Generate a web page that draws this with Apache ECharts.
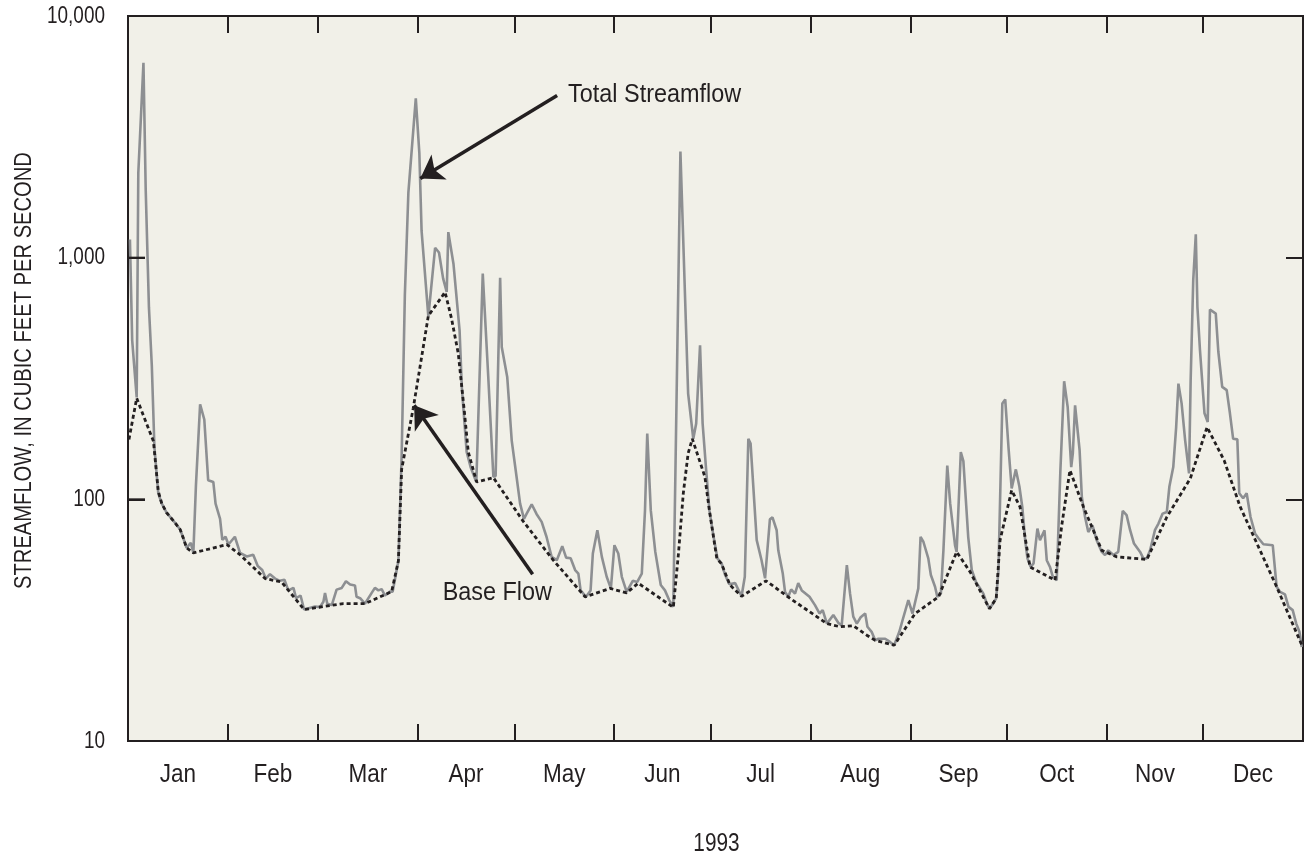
<!DOCTYPE html>
<html><head><meta charset="utf-8">
<script src="https://cdn.jsdelivr.net/npm/echarts@6/dist/echarts.min.js"></script>
<style>html,body{margin:0;padding:0;background:#fff}#chart{width:1306px;height:857px}</style>
</head><body><div id="chart"></div>
<script>
// ---- data (day of year 1993, 0 = Jan 1; streamflow in cubic feet per second) ----
const monthNames = ['Jan','Feb','Mar','Apr','May','Jun','Jul','Aug','Sep','Oct','Nov','Dec'];
const monthStarts = [31,59,90,120,151,181,212,243,273,304,334];
const monthMids = [15.5,45,74.5,105,135.5,166,196.5,227.5,258,288.5,319,349.5];
const yTickValues = [10,100,1000,10000];
const yTickLabels = ['10','100','1,000','10,000'];
const xTitle = '1993';
const yTitle = 'STREAMFLOW, IN CUBIC FEET PER SECOND';

const totalDay = [0.6,1.3,2.7,3.2,4.8,5.5,6.5,7.4,8.2,9.4,10.5,12.0,13.6,14.6,16.2,17.2,18.2,19.5,20.3,21.1,22.4,23.7,24.9,26.5,27.2,28.6,29.3,30.3,31.2,33.2,34.8,36.9,38.9,40.3,41.7,42.8,44.1,45.7,47.2,48.6,49.8,51.4,52.2,53.6,54.7,58.1,59.6,60.7,61.2,61.9,63.3,64.8,66.4,67.7,69,70.5,71,72.1,73.6,75.7,76.7,77.8,78.8,79.8,81.4,82.2,84,85,86,87.1,89.4,90.5,91.2,93.3,95.4,96.6,97.9,99,99.5,101.1,103,103.7,105.2,106.5,108.2,110.2,111.9,113.5,114.2,115.6,116.1,117.8,119.2,120.7,121.8,123,123.8,125.4,126.9,128.5,130,131.6,133.2,134.9,136.1,137.5,138.9,139.9,140.6,142.3,143.7,144.4,145.8,147.2,148.7,150,151.1,152.3,153.4,154.9,156.8,158.2,159.6,160.6,161.3,162.4,163.8,165.5,166.8,168.1,169.4,171.6,174,175.6,176.5,177.7,178.5,179.6,180.6,181.9,183.1,184.4,185.5,186.8,188.6,190.6,191.6,192.7,193.4,195.3,196.8,197.9,199.4,200.2,201.5,202,203.4,204.1,205.1,206,207.2,208.2,209.3,211.7,213.4,214.8,215.8,217.1,219.1,220.7,221.7,223.3,224.3,225.3,226.4,227.6,229,229.7,231,232.1,233.1,235.2,236.7,238,239.6,240.6,242.4,243.7,245.5,246.2,247.1,248.6,249.4,250.7,251.4,252.5,253.3,254.5,255.4,256.9,257.4,258.7,259.5,261,262.1,263.4,264.7,265.7,266.8,267.6,268.7,269.7,270.4,271.6,272.5,273.5,274.5,275.8,276.9,277.8,278.7,279.4,280.4,281.3,282.5,283.3,284.7,285.4,286.4,287.3,288.5,289.6,290.8,291.9,293,293.5,294.2,295.6,296.3,297.3,298.3,299.6,300.9,302.5,303.5,304.5,306.1,307.6,309,310.2,311.3,312.5,314.4,315.4,316.5,317.5,319,320.1,321.4,322.7,323.5,324.7,325.6,326.3,327.3,328.4,329.6,330.1,330.9,331.7,332.2,333,334.4,335.4,336.1,337.9,338.7,339.9,341.3,342.3,343.3,344.6,345.2,346.4,347.5,348.7,350.1,351.1,352.7,355.6,356.8,357.9,359.4,360.5,361.8,362.9,363.9,364.6];
const totalFlow = [1190,455,264,2240,6400,1910,624,357,165,106,96,88,83,80,75,69,63,66,60,114,247,214,120,118,96,83,68,70,65,70,60,58,59,53,51,47,49,47,46,46.5,42,43,39,40,35,36,35.8,37.7,41,37,36.5,42.3,43,45.8,44.4,44,39.5,39,37,41,43,42,42.5,40,41.5,41.5,55.7,150,700,1864,4565,2716,1290,570,1099,1050,819,721,1276,944,500,290,157,135,118,859,323,124,125,826,427,321,175,124,96,83,87,95.4,87,80.7,70,57.8,56,64,57.4,57,51,49.3,42,39.5,42,59.7,74.5,57.8,47.8,42.8,64.6,59.7,47.8,41.4,46,45.5,49.3,90,187,90,60.6,44.2,42,38.3,35.9,2750,274,178,206,434,206,132,90,70,57,54.3,48.6,44.5,45,39.7,47.8,178,170,67.8,56,47.1,82.6,84.2,74.5,61.5,49.3,41.4,39.5,42.4,40.7,45,42,39.5,36.5,33.7,34.8,30.6,33.2,30.8,30.1,53.4,40.7,32.7,30.6,32.5,33.7,29.7,28.3,26.1,26.5,26.5,25.7,24.9,28.3,31.6,38.3,33.7,42.8,70,66.6,57,48.6,43.5,39.5,40.7,61.5,138,96.2,64.6,60.6,157,144,70,51,45.5,42.8,40.7,37,35.3,37,38.9,51,249,259,165,111,133,113,93,67.8,57,52.5,54.3,75.7,67.8,74.5,56,52.5,47.8,46.3,128,308,241,136,155,245,160,102,84.5,73.3,78.1,67.8,60.6,58.8,61.5,58.8,60.6,89.6,86,74.5,65.6,60.6,57,57,61.5,74.5,79.4,87.3,88.7,113,136,199,301,249,175,128,311,805,1250,626,414,227,209,610,587,408,292,283,227,178,177,106,101,106,84.5,72.3,69.2,65.2,64.6,43.5,41.4,40.4,35.9,34.8,30.6,28.3,24.5];

const baseDay = [0.3,2.7,7.9,9.4,10.5,12,13.6,14.6,16.2,17.2,18.2,20.3,30.7,34.8,42.6,47.7,54.7,60.7,66.9,73.6,81.9,84,85,88.6,91.2,93.3,98.5,100.5,102.6,104.5,105.7,108.3,113.5,122.8,132.1,142,149.8,154.9,158.5,169.4,171,172.5,174,175.3,179.2,180.6,182.9,184.4,187,190.6,198.2,205.7,217.1,221.2,225.3,229.5,232.1,238,244.5,251.8,257.4,261.6,267.6,269.7,270.9,274.5,277.1,280.2,288,290,292.6,296.8,302.5,307.2,316.5,322.7,330,335.2,340.5,345.5,350.7,356.8,364.6];
const baseFlow = [177,262,174,108,96,88,83,80,75,69,63,60,65,59,47,45.5,35,36,37,37,41.5,55.7,133,238,387,575,720,560,401,230,157,118,123,81,56,39.5,42.8,41,45,35.7,59.7,106,155,178,124,90,57,54,44.2,39.7,46,38.9,30.6,29.7,30,27.4,26.1,24.9,33.7,39.5,60.6,50.1,35.3,38.9,67.8,109,93,52.5,46.3,77,132,93,61.5,57.8,56.4,84.5,122,199,145,93,65.6,43.5,25];

// annotation arrows: [tailDay, tailFlow, headDay, headFlow]
const totalArrow = [133.3, 4690, 90.8, 2128];
const baseArrow = [125.7, 49, 88.9, 245];

const FONT = '"Liberation Sans", Arial, sans-serif';
const INK = '#231f20';
const TICK_LEN = 17;

const zip = (a, b) => a.map((d, i) => [d, b[i]]);
const tick = extra => Object.assign({show: true, inside: true, length: TICK_LEN, lineStyle: {color: INK, width: 2}}, extra || {});
const yLog = extra => Object.assign({type: 'log', min: 10, max: 10000, z: 10,
  axisLine: {show: false, onZero: false}, splitLine: {show: false}, axisLabel: {show: false}}, extra);

function buildOption(graphic) {
  return {
    animation: false,
    backgroundColor: '#ffffff',
    grid: {left: 128, right: 3, top: 16, bottom: 116, containLabel: false, outerBoundsMode: 'none',
      show: true, backgroundColor: '#f1f0e8', borderColor: INK, borderWidth: 2},
    xAxis: [
      {type: 'value', min: 0, max: 365, position: 'bottom', z: 10, axisLine: {show: false, onZero: false},
        splitLine: {show: false}, axisTick: tick({customValues: monthStarts}), axisLabel: {show: false}},
      {type: 'value', min: 0, max: 365, position: 'top', z: 10, axisLine: {show: false, onZero: false},
        splitLine: {show: false}, axisTick: tick({customValues: monthStarts}), axisLabel: {show: false}}
    ],
    yAxis: [
      yLog({position: 'left', axisTick: tick()}),
      yLog({position: 'right', axisTick: tick()})
    ],
    graphic: graphic,
    series: [{
      name: 'Total Streamflow', type: 'line',
      data: zip(totalDay, totalFlow), showSymbol: false, symbol: 'none',
      lineStyle: {color: '#8d8f92', width: 2.6}, z: 2
    }, {
      name: 'Base Flow', type: 'line',
      data: zip(baseDay, baseFlow), showSymbol: false, symbol: 'none',
      lineStyle: {color: INK, width: 2.8, type: [4, 3]}, z: 3,
      markLine: {
        silent: true, symbol: ['none', 'arrow'], symbolSize: 22,
        label: {show: false},
        lineStyle: {color: INK, width: 3.5, type: 'solid'},
        data: [
          [{coord: [totalArrow[0], totalArrow[1]]}, {coord: [totalArrow[2], totalArrow[3]]}],
          [{coord: [baseArrow[0], baseArrow[1]]}, {coord: [baseArrow[2], baseArrow[3]]}]
        ]
      }
    }]
  };
}

const chart = echarts.init(document.getElementById('chart'));
chart.setOption(buildOption([]));

// Condensed text labels (Arial-metric font squeezed horizontally, like a condensed sans face),
// positioned through the chart's own axes.
function label(text, x, y, size, sx, align, rotation) {
  return {type: 'text', x: x, y: y, rotation: rotation || 0, scaleX: sx, z: 100, silent: true,
    style: {text: text, fill: INK, font: size + 'px ' + FONT, align: align, verticalAlign: 'middle'}};
}
const px = v => chart.convertToPixel({xAxisIndex: 0}, v);
const py = v => chart.convertToPixel({yAxisIndex: 0}, v);
const plotLeft = px(0), plotRight = px(365), plotTop = py(10000), plotBottom = py(10);
const g = [];
yTickValues.forEach((v, i) => {
  const y = py(v);
  g.push(label(yTickLabels[i], plotLeft - 23, y, 24, 0.79, 'right'));
  // inward tick on the left frame at this axis value
  g.push({type: 'line', z: 100, silent: true,
    shape: {x1: plotLeft, y1: y, x2: plotLeft + TICK_LEN, y2: y},
    style: {stroke: INK, lineWidth: 2}});
});
monthMids.forEach((m, i) => g.push(label(monthNames[i], px(m), plotBottom + 34, 25, 0.9, 'center')));
g.push(label(xTitle, (plotLeft + plotRight) / 2 + 1, plotBottom + 103, 26, 0.8, 'center'));
g.push(label(yTitle, plotLeft - 104, (plotTop + plotBottom) / 2 - 8, 24, 0.84, 'center', Math.PI / 2));
g.push(label('Total Streamflow', px(totalArrow[0]) + 11, py(totalArrow[1]) - 1, 26, 0.9, 'left'));
g.push(label('Base Flow', px(baseArrow[0]) - 90, py(baseArrow[1]) + 19, 26, 0.9, 'left'));

chart.setOption(buildOption(g), {notMerge: true});
</script></body></html>
